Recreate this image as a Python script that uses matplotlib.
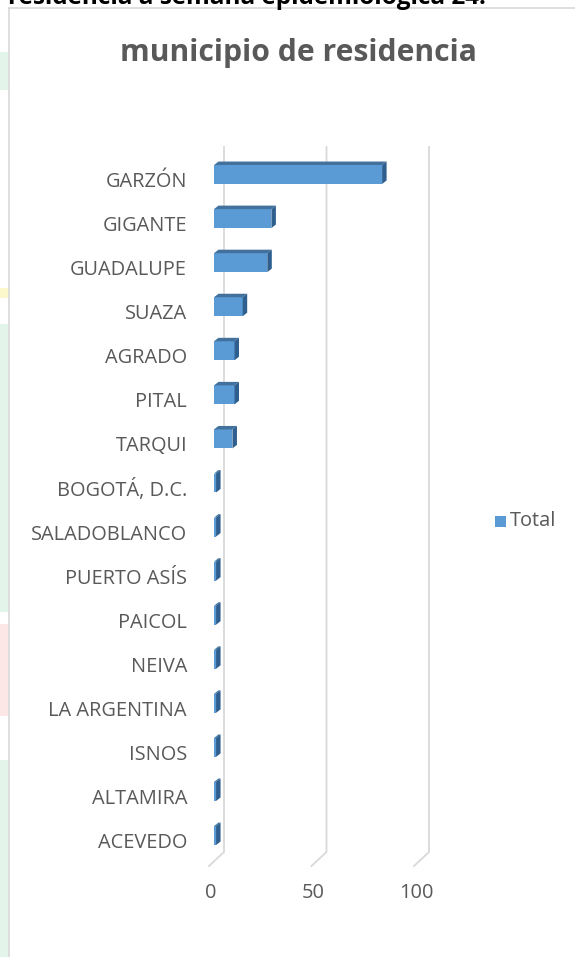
import matplotlib
matplotlib.use("Agg")
import matplotlib.pyplot as plt
from matplotlib.patches import Polygon, Rectangle
import numpy as np

municipios = ["GARZÓN", "GIGANTE", "GUADALUPE", "SUAZA", "AGRADO", "PITAL",
              "TARQUI", "BOGOTÁ, D.C.", "SALADOBLANCO", "PUERTO ASÍS",
              "PAICOL", "NEIVA", "LA ARGENTINA", "ISNOS", "ALTAMIRA", "ACEVEDO"]
total = [82, 28, 26, 14, 10, 10, 9, 1, 1, 1, 1, 1, 1, 1, 1, 1]
xticks = [0, 50, 100]

W, H = 575, 957
gray = "#595959"
front_c = "#5b9bd5"
top_c = "#41719c"
side_c = "#2e5f8e"
grid_c = "#d9d9d9"

fig = plt.figure(figsize=(W / 100, H / 100), dpi=100)
fig.patch.set_facecolor("white")

# faint watermark bits on the left edge
for y0, y1, c in [(52, 90, "#e3f5ea"), (288, 298, "#fdf7cc"), (324, 612, "#e3f5ea"),
                  (624, 716, "#fde6e6"), (760, 957, "#e3f5ea")]:
    fig.patches.append(Rectangle((0, 1 - y1 / H), 9 / W, (y1 - y0) / H,
                                 transform=fig.transFigure, color=c, lw=0))

# chart area border
fig.add_artist(plt.Line2D([9 / W, 9 / W], [0, 1 - 8 / H], color=grid_c, lw=1.2))
fig.add_artist(plt.Line2D([9 / W, 1], [1 - 8 / H, 1 - 8 / H], color=grid_c, lw=1.2))

# cut-off heading above the chart
fig.text(8 / W, 1 - 4 / H, "residencia a semana epidemiológica 24:", fontsize=17.5,
         fontweight="bold", color="black", family="Open Sans", va="baseline", ha="left")

fig.text(298 / W, 1 - 53 / H, "municipio de residencia", fontsize=21.7,
         fontweight="bold", color=gray, family="Open Sans", ha="center", va="center")

# axes in pixel geometry
px_unit = 2.05
left_px, right_px, top_px, bot_px = 214, 460, 140, 880
ax = fig.add_axes([left_px / W, 1 - bot_px / H, (right_px - left_px) / W, (bot_px - top_px) / H])
row = 44.07
ax.set_xlim(0, (right_px - left_px) / px_unit)
ax.set_ylim((bot_px - 182) / row, (top_px - 182) / row)
ax.axis("off")

# gridlines with 3D floor slant
dxb, dxf = 10 / px_unit, -5 / px_unit
ytop, ybot, yfl = (147 - 182) / row, (852 - 182) / row, (866 - 182) / row
for g in xticks:
    ax.plot([g + dxb, g + dxb, g + dxf], [ytop, ybot, yfl], color=grid_c, lw=1.3,
            clip_on=False, zorder=1)
    ax.text(g - 3 / px_unit, (893 - 182) / row, str(g), ha="center", va="center",
            fontsize=14.4, color=gray, family="Open Sans")

# bars: front face + top + side
y = np.arange(len(municipios))
bh = 0.43
yc = y - 0.17
ddx, ddy = 4.5 / px_unit, 3.5 / row
ax.barh(yc, total, height=bh, color=front_c, zorder=3)
for yi, v in zip(yc, total):
    t, b = yi - bh / 2, yi + bh / 2
    ax.add_patch(Polygon([(0, t), (v, t), (v + ddx, t - ddy), (ddx, t - ddy)],
                         closed=True, color=top_c, lw=0, zorder=3))
    ax.add_patch(Polygon([(v, t), (v + ddx, t - ddy), (v + ddx, b - ddy), (v, b)],
                         closed=True, color=side_c, lw=0, zorder=3))

for yi, name in zip(y, municipios):
    ax.text(-27 / px_unit, yi, name, ha="right", va="center", fontsize=14.4,
            color=gray, family="Open Sans", clip_on=False)

# legend
fig.patches.append(Rectangle((495 / W, 1 - 527 / H), 11 / W, 11 / H,
                             transform=fig.transFigure, color=front_c, lw=0))
fig.text(510 / W, 1 - 521 / H, "Total", fontsize=14.4, color=gray, family="Open Sans",
         va="center", ha="left")

fig.savefig("out.png", dpi=100)
